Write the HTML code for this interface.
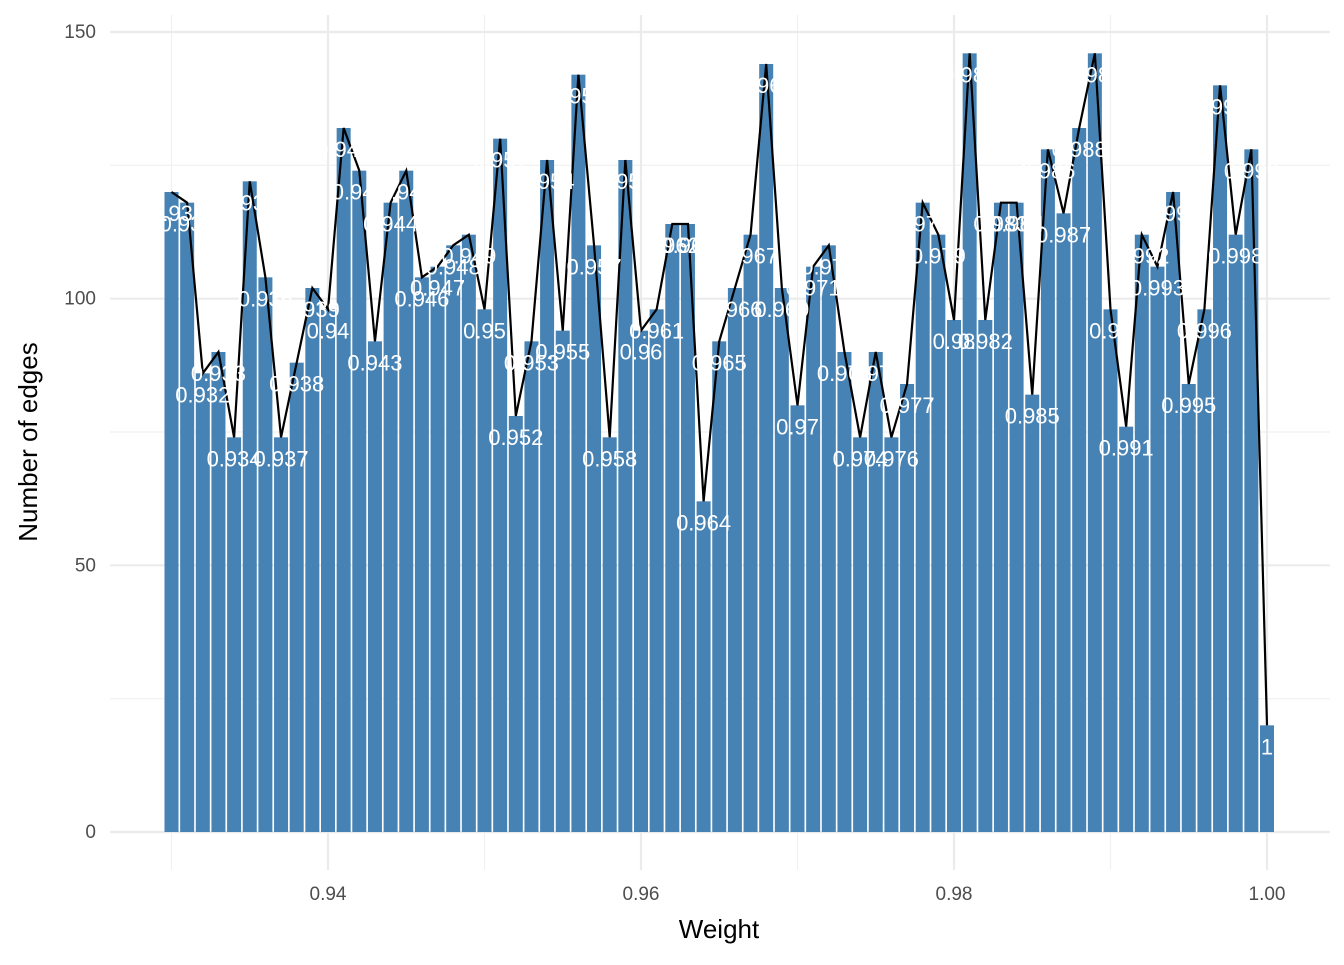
<!DOCTYPE html>
<html><head><meta charset="utf-8"><style>
body{margin:0;background:#fff;font-family:"Liberation Sans","DejaVu Sans",sans-serif}
</style></head><body>
<svg id="c" width="1344" height="960" xmlns="http://www.w3.org/2000/svg">
<g id="grid"></g>
<g id="bars"></g>
<path id="line" fill="none" stroke="#000" stroke-width="2.2"/>
<g id="labels"></g>
<g id="axes"></g>
<text x="719" y="938" font-size="26" text-anchor="middle" fill="#000">Weight</text>
<text transform="translate(37,442) rotate(-90)" font-size="26" text-anchor="middle" fill="#000">Number of edges</text>
</svg>
<script>
const weights=[];for(let i=0;i<=70;i++)weights.push(+(0.93+i*0.001).toFixed(3));
const counts=[120,118,86,90,74,122,104,74,88,102,98,132,124,92,118,124,104,106,110,112,98,130,78,92,126,94,142,110,74,126,94,98,114,114,62,92,102,112,144,102,80,106,110,90,74,90,74,84,118,112,96,146,96,118,118,82,128,116,132,146,98,76,112,106,120,84,98,140,112,128,20];
const yTicks=[0,50,100,150];
const yMinor=[25,75,125];
const xTicks=[0.94,0.96,0.98,1.00];
const xMinor=[0.93,0.95,0.97,0.99];
const NS="http://www.w3.org/2000/svg";
const xs=v=>328+(v-0.94)/0.02*313;
const ys=v=>832-v*800/150;
function mk(p,t,a){const e=document.createElementNS(NS,t);for(const k in a)e.setAttribute(k,a[k]);p.appendChild(e);return e;}
const G=document.getElementById('grid'),B=document.getElementById('bars'),L=document.getElementById('labels'),A=document.getElementById('axes');
yMinor.forEach(v=>{const e=mk(G,'line',{x1:110,x2:1330,y1:ys(v),y2:ys(v),stroke:'#f0f0f0','stroke-width':1.2});

});
xMinor.forEach(v=>{const e=mk(G,'line',{x1:xs(v),x2:xs(v),y1:15,y2:870,stroke:'#f0f0f0','stroke-width':1.2});

});
yTicks.forEach(v=>{const e=mk(G,'line',{x1:110,x2:1330,y1:ys(v),y2:ys(v),stroke:'#ebebeb','stroke-width':2.2});


const t=mk(A,'text',{x:96,y:ys(v)+6,'font-size':19,'text-anchor':'end',fill:'#4d4d4d'});t.textContent=v;

});
xTicks.forEach(v=>{const e=mk(G,'line',{x1:xs(v),x2:xs(v),y1:15,y2:870,stroke:'#ebebeb','stroke-width':2.2});


const t=mk(A,'text',{x:xs(v),y:900,'font-size':19,'text-anchor':'middle',fill:'#4d4d4d'});t.textContent=v.toFixed(2);

});
const bw=14;let d='';
weights.forEach((w,i)=>{const c=counts[i];
const r=mk(B,'rect',{x:xs(w)-bw/2,y:ys(c),width:bw,height:ys(0)-ys(c),fill:'#4682b4'});


d+=(i?'L':'M')+xs(w)+','+ys(c);
const t=mk(L,'text',{x:xs(w),y:ys(c)+29,'font-size':22,'text-anchor':'middle',fill:'#fff'});t.textContent=String(+w);

});
document.getElementById('line').setAttribute('d',d);
</script>
</body></html>
